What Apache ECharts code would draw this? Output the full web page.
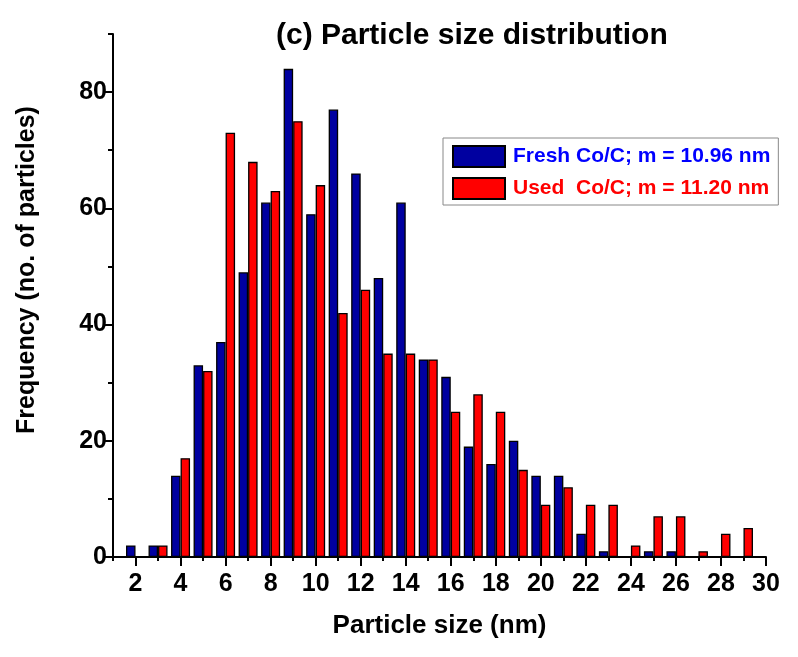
<!DOCTYPE html>
<html><head><meta charset="utf-8">
<script src="https://cdn.jsdelivr.net/npm/echarts@6/dist/echarts.min.js"></script>
<style>html,body{margin:0;padding:0;background:#fff}#c{width:798px;height:657px}</style>
</head><body><div id="c"></div>
<script>
const sizes        = [2,3,4,5,6,7,8,9,10,11,12,13,14,15,16,17,18,19,20,21,22,23,24,25,26,27,28,29];
const freshCounts  = [2,2,14,33,37,49,61,84,59,77,66,48,61,34,31,19,16,20,14,14,4,1,0,1,1,0,0,0];
const usedCounts   = [0,2,17,32,73,68,63,75,64,42,46,35,35,34,25,28,25,15,9,12,9,9,2,7,7,1,4,5];
const xTickLabels  = [2,4,6,8,10,12,14,16,18,20,22,24,26,28,30];
const xMinorTicks  = [1,3,5,7,9,11,13,15,17,19,21,23,25,27,29];
const yTickLabels  = [0,20,40,60,80];
const yMinorTicks  = [10,30,50,70,90];
const seriesNames  = ['Fresh Co/C; m = 10.96 nm', 'Used  Co/C; m = 11.20 nm'];
const titleText    = '(c) Particle size distribution';
const xTitle       = 'Particle size (nm)';
const yTitle       = 'Frequency (no. of particles)';

const FONT = 'Liberation Sans, Arial, sans-serif';
const toPairs = (vals) => sizes.map((s, i) => [s, vals[i]]).filter(p => p[1] > 0);

const chart = echarts.init(document.getElementById('c'), null, {renderer: 'canvas'});
const axisLineStyle = {color: '#000', width: 2};
chart.setOption({
  animation: false,
  backgroundColor: '#fff',
  title: {
    text: titleText, left: 276, top: 21, padding: 0,
    textStyle: {fontFamily: FONT, fontSize: 30, fontWeight: 'bold', color: '#000'}
  },
  graphic: [{
    type: 'text', x: 27, y: 270, rotation: Math.PI / 2,
    style: {text: yTitle, font: 'bold 25px Liberation Sans, Arial, sans-serif', fill: '#000',
            textAlign: 'center', textVerticalAlign: 'middle'}
  }],
  legend: {
    orient: 'vertical', left: 443, top: 138,
    padding: [7, 8, 5, 9], itemGap: 9, itemWidth: 52, itemHeight: 21,
    borderColor: '#888', borderWidth: 1, icon: 'rect',
    data: [
      {name: seriesNames[0], textStyle: {color: '#0000ff'}},
      {name: seriesNames[1], textStyle: {color: '#ff0000'}}
    ],
    textStyle: {fontFamily: FONT, fontSize: 21, fontWeight: 'bold', padding: [0, 0, 0, 3]}
  },
  grid: {left: 113, right: 32, top: 34, bottom: 100, containLabel: false},
  xAxis: [{
    type: 'value', min: 1, max: 30,
    axisLine: {show: true, lineStyle: axisLineStyle},
    axisTick: {show: true, customValues: xTickLabels, length: 9, lineStyle: axisLineStyle},
    axisLabel: {customValues: xTickLabels, fontFamily: FONT, fontSize: 25, fontWeight: 'bold', color: '#000', margin: 15},
    splitLine: {show: false},
    name: xTitle, nameLocation: 'middle', nameGap: 56,
    nameTextStyle: {fontFamily: FONT, fontSize: 26, fontWeight: 'bold', color: '#000'}
  }, {
    type: 'value', min: 1, max: 30, position: 'bottom',
    axisLine: {show: false},
    axisTick: {show: true, customValues: xMinorTicks, length: 4, lineStyle: axisLineStyle},
    axisLabel: {show: false}, splitLine: {show: false}
  }],
  yAxis: [{
    type: 'value', min: 0, max: 90,
    axisLine: {show: true, lineStyle: axisLineStyle},
    axisTick: {show: true, customValues: yTickLabels, length: 8, lineStyle: axisLineStyle},
    axisLabel: {customValues: yTickLabels, fontFamily: FONT, fontSize: 25, fontWeight: 'bold', color: '#000', margin: 6},
    splitLine: {show: false}
  }, {
    type: 'value', min: 0, max: 90, position: 'left',
    axisLine: {show: false},
    axisTick: {show: true, customValues: yMinorTicks, length: 5, lineStyle: axisLineStyle},
    axisLabel: {show: false}, splitLine: {show: false}
  }],
  series: [{
    name: seriesNames[0], type: 'bar', xAxisIndex: 0, yAxisIndex: 0,
    data: toPairs(freshCounts), barWidth: 9.5, barGap: '0%',
    itemStyle: {color: '#0000a0', borderColor: '#000', borderWidth: 1.3}
  }, {
    name: seriesNames[1], type: 'bar', xAxisIndex: 0, yAxisIndex: 0,
    data: toPairs(usedCounts), barWidth: 9.5, barGap: '0%',
    itemStyle: {color: '#ff0000', borderColor: '#000', borderWidth: 1.3}
  }]
});
</script>
</body></html>
